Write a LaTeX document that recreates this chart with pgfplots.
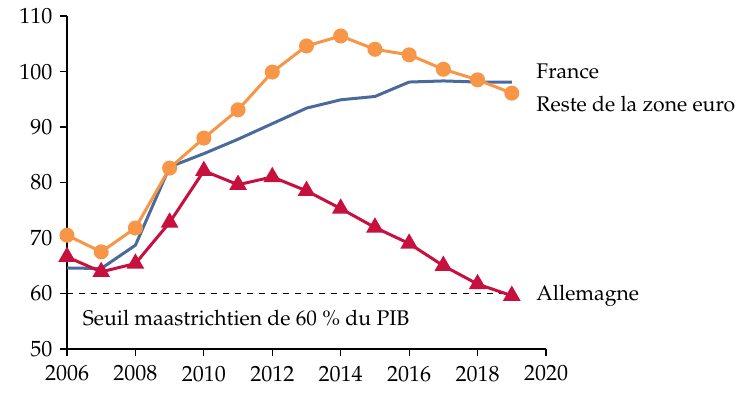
\documentclass[border=0pt]{standalone}
\usepackage[T1]{fontenc}
\usepackage{mathpazo}
\usepackage{pgfplots}
\pgfplotsset{compat=1.18}
\definecolor{cOrange}{HTML}{F79646}
\definecolor{cBlue}{HTML}{4A6A9E}
\definecolor{cRed}{HTML}{C8103F}
\begin{document}
\fontsize{11}{13}\selectfont
\begin{tikzpicture}
\begin{axis}[
  at={(0,0)}, anchor=south west,
  scale only axis, width=239.5pt, height=166.5pt,
  xmin=2006, xmax=2020, ymin=50, ymax=110,
  xtick={2006,2008,...,2020}, ytick={50,60,...,110},
  axis x line*=bottom, axis y line*=left,
  axis line style={line width=0.6pt, -},
  tick style={line width=0.6pt, black},
  tick align=outside, major tick length=3.5pt,
  x tick label style={/pgf/number format/1000 sep={}, font=\fontsize{11}{13}\selectfont},
  y tick label style={font=\fontsize{11}{13}\selectfont},
  xticklabel style={yshift=-1pt},
  clip=false,
]
\addplot[black, dashed, line width=0.5pt] coordinates {(2006,60) (2019,60)};
\addplot[cBlue, line width=1.5pt] coordinates {
(2006,64.6) (2007,64.5) (2008,68.7) (2009,82.8) (2010,85.2) (2011,87.8) (2012,90.6)
(2013,93.4) (2014,94.9) (2015,95.5) (2016,98.1) (2017,98.3) (2018,98.1) (2019,98.1)};
\addplot[cOrange, line width=1.5pt, mark=*, mark size=3pt, mark options={fill=cOrange, draw=cOrange}] coordinates {
(2006,70.5) (2007,67.5) (2008,71.8) (2009,82.6) (2010,88.0) (2011,93.1) (2012,99.9)
(2013,104.6) (2014,106.4) (2015,104.0) (2016,103.0) (2017,100.4) (2018,98.5) (2019,96.1)};
\addplot[cRed, line width=1.5pt, mark=triangle*, mark size=3.6pt, mark options={fill=cRed, draw=cRed}] coordinates {
(2006,66.6) (2007,63.9) (2008,65.4) (2009,72.8) (2010,82.1) (2011,79.6) (2012,81.0)
(2013,78.5) (2014,75.3) (2015,71.9) (2016,69.0) (2017,65.0) (2018,61.7) (2019,59.6)};
\begin{scope}[every node/.style={anchor=west, inner sep=0pt, font=\fontsize{10.6}{13}\selectfont}]
\node at (axis cs:2019.71,100.1) {France};
\node at (axis cs:2019.71,94.1) {Reste de la zone euro};
\node at (axis cs:2019.71,59.5) {Allemagne};
\node at (axis cs:2006.45,55.6) {Seuil maastrichtien de 60 \% du PIB};
\end{scope}
\end{axis}
\pgfresetboundingbox
\path[use as bounding box] (-33.5pt,-23.5pt) rectangle (338.5pt,174.5pt);
\end{tikzpicture}
\end{document}
